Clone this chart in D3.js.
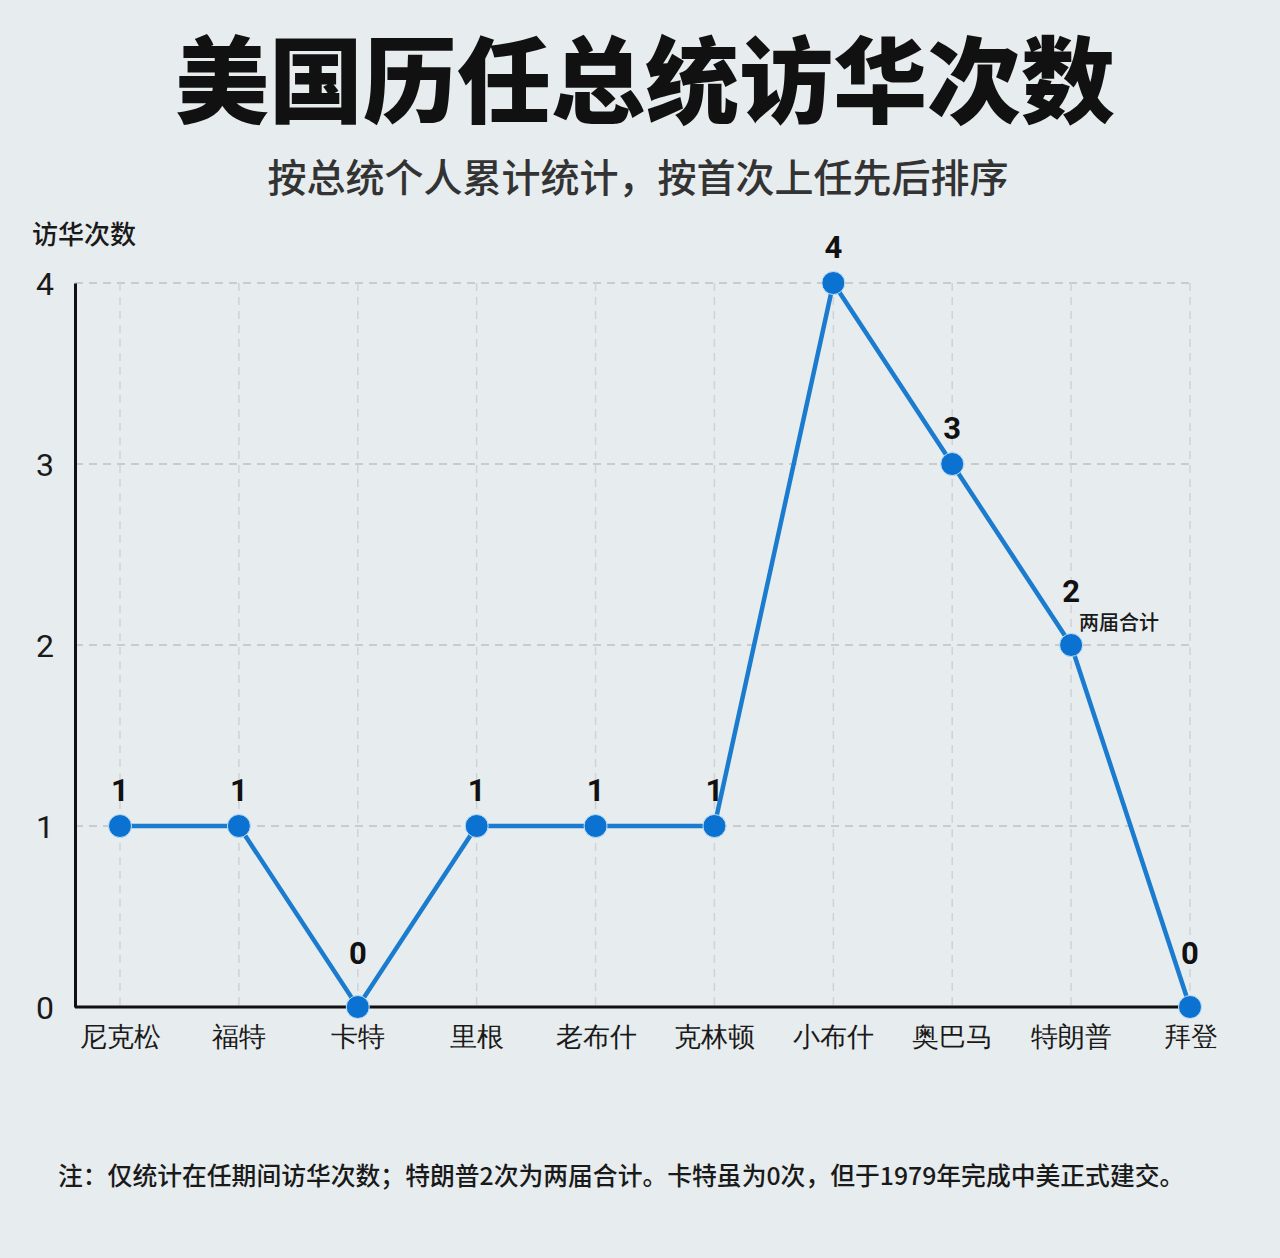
<!DOCTYPE html>
<html>
<head>
<meta charset="utf-8">
<script src="https://cdn.jsdelivr.net/npm/d3@7"></script>
<style>
    html, body { margin: 0; padding: 0; background: #e7ecee; }
    svg { display: block; font-family: "Noto Sans CJK SC", "Noto Sans", sans-serif; }
</style>
</head>
<body>
<script>
const presidents = ["尼克松", "福特", "卡特", "里根", "老布什", "克林顿", "小布什", "奥巴马", "特朗普", "拜登"];
const visits = [1, 1, 0, 1, 1, 1, 4, 3, 2, 0];
const yTicks = [0, 1, 2, 3, 4];
const titleText = "美国历任总统访华次数";
const subtitleText = "按总统个人累计统计，按首次上任先后排序";
const yTitle = "访华次数";
const trumpNote = "两届合计";
const footnote = "注：仅统计在任期间访华次数；特朗普2次为两届合计。卡特虽为0次，但于1979年完成中美正式建交。";

function draw() {
    let width = 1280, height = 1258;
    let left = 75, right = 1193, top = 283, bottom = 1007;

    var svg = d3.select("body")
                .append("svg")
                .attr("width", width)
                .attr("height", height);

    svg.append("rect")
       .attr("width", width)
       .attr("height", height)
       .attr("fill", "#e7ecee");

    var xScale = d3.scalePoint()
                .domain(presidents)
                .range([120, 1190]);

    var yScale = d3.scaleLinear()
                .domain([0, 4])
                .range([bottom, top]);

    // titles
    svg.append("text")
       .attr("x", 645)
       .attr("y", 116)
       .attr("text-anchor", "middle")
       .attr("font-size", 94)
       .attr("font-weight", 900)
       .attr("fill", "#111")
       .text(titleText);

    svg.append("text")
       .attr("x", 638)
       .attr("y", 192)
       .attr("text-anchor", "middle")
       .attr("font-size", 39)
       .attr("font-weight", 500)
       .attr("fill", "#333")
       .text(subtitleText);

    svg.append("text")
       .attr("x", 32)
       .attr("y", 244)
       .attr("font-size", 26)
       .attr("font-weight", 500)
       .attr("fill", "#1a1a1a")
       .text(yTitle);

    // grid
    svg.append("g")
       .selectAll("line")
       .data(yTicks.filter((d) => d > 0))
       .enter()
       .append("line")
       .attr("x1", left)
       .attr("x2", right)
       .attr("y1", (d) => yScale(d))
       .attr("y2", (d) => yScale(d))
       .style("stroke", "#c9cccf")
       .style("stroke-width", 2)
       .style("stroke-dasharray", "8,6");

    svg.append("g")
       .selectAll("line")
       .data(presidents)
       .enter()
       .append("line")
       .attr("x1", (d) => xScale(d))
       .attr("x2", (d) => xScale(d))
       .attr("y1", top)
       .attr("y2", bottom)
       .style("stroke", "#d0d3d6")
       .style("stroke-width", 1.5)
       .style("stroke-dasharray", "8,6");

    // axes
    var yAxis = d3.axisLeft(yScale)
                .tickValues(yTicks)
                .tickFormat(d3.format("d"))
                .tickSize(0);

    var xAxis = d3.axisBottom(xScale)
                .tickSize(0)
                .tickPadding(20);

    let yg = svg.append("g")
       .attr("transform", `translate(${left}, 0)`)
       .call(yAxis);
    yg.select(".domain").attr("stroke", "#111").attr("stroke-width", 3);
    yg.selectAll("text")
      .attr("x", -30)
      .attr("text-anchor", "middle")
      .attr("font-size", 32)
      .attr("fill", "#1a1a1a")
      .attr("font-family", "Roboto, 'Noto Sans', sans-serif")
      .attr("dy", "0.36em");

    let xg = svg.append("g")
       .attr("transform", `translate(0, ${bottom})`)
       .call(xAxis);
    xg.select(".domain").attr("d", `M${left},0H${right}`).attr("stroke", "#111").attr("stroke-width", 3);
    xg.selectAll("text")
      .attr("font-size", 27)
      .attr("font-weight", 500)
      .attr("fill", "#1a1a1a");

    // line + points
    var line = d3.line()
                .x((d, i) => xScale(presidents[i]))
                .y((d) => yScale(d));

    svg.append("path")
       .datum(visits)
       .attr("d", line)
       .attr("fill", "none")
       .style("stroke", "#1b7ccf")
       .style("stroke-width", 4.5)
       .style("stroke-linejoin", "miter");

    svg.append("g")
       .selectAll("circle")
       .data(visits)
       .enter()
       .append("circle")
       .attr("cx", (d, i) => xScale(presidents[i]))
       .attr("cy", (d) => yScale(d))
       .attr("r", 11.5)
       .attr("fill", "#0b72d2")
       .style("stroke", "#bfe0f7")
       .style("stroke-width", 1);

    let ti = presidents.indexOf("特朗普");

    // value labels, lifted higher where the line or a note would touch them
    svg.append("g")
       .selectAll("text")
       .data(visits)
       .enter()
       .append("text")
       .attr("x", (d, i) => xScale(presidents[i]))
       .attr("y", (d, i) => yScale(d) - (d === 0 || i === ti ? 43 : 25))
       .attr("text-anchor", "middle")
       .attr("font-size", 31)
       .attr("font-weight", 700)
       .attr("font-family", "Roboto, 'Noto Sans', sans-serif")
       .attr("fill", "#111")
       .text((d) => d);

    svg.append("text")
       .attr("x", xScale(presidents[ti]) + 8)
       .attr("y", yScale(visits[ti]) - 15)
       .attr("font-size", 20)
       .attr("font-weight", 500)
       .attr("fill", "#1a1a1a")
       .text(trumpNote);

    svg.append("text")
       .attr("x", 58)
       .attr("y", 1185)
       .attr("font-size", 24.8)
       .attr("font-weight", 500)
       .attr("fill", "#1a1a1a")
       .text(footnote);
}

draw();
</script>
</body>
</html>
